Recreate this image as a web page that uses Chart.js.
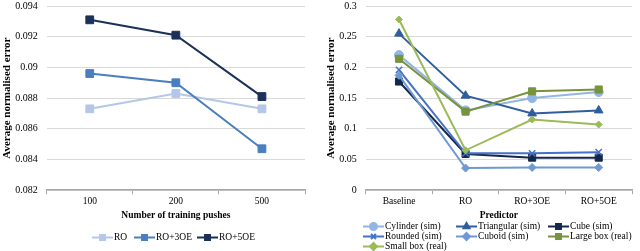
<!DOCTYPE html>
<html>
<head>
<meta charset="utf-8">
<script src="https://cdn.jsdelivr.net/npm/chart.js@4"></script>
<style>
  html, body { margin: 0; padding: 0; background: #fff; }
  #wrap { position: relative; width: 640px; height: 251px; font-family: "Liberation Serif", "Times New Roman", serif; }
  .pane { position: absolute; top: 0; width: 320px; height: 251px; }
  .leg { position: absolute; display: flex; align-items: center; white-space: nowrap; color: #000; }
  .leg canvas { display: block; margin-right: 1px; }
</style>
</head>
<body>
<div id="wrap">
  <div class="pane" style="left:0"><canvas id="pushChart" width="320" height="251"></canvas></div>
  <div class="pane" style="left:320px"><canvas id="predChart" width="320" height="251"></canvas></div>
</div>
<script>
// LEFT CHART DATA
const pushCounts = ["100", "200", "500"];
const roErr = [0.0873, 0.0883, 0.0873];
const ro3Err = [0.0896, 0.0890, 0.0847];
const ro5Err = [0.0931, 0.0921, 0.0881];
const pushTicks = [0.082, 0.084, 0.086, 0.088, 0.09, 0.092, 0.094];

// RIGHT CHART DATA
const predictors = ["Baseline", "RO", "RO+3OE", "RO+5OE"];
const cylinderErr = [0.220, 0.130, 0.150, 0.160];
const triangularErr = [0.255, 0.154, 0.125, 0.130];
const cubeErr = [0.177, 0.059, 0.053, 0.053];
const roundedErr = [0.196, 0.060, 0.060, 0.062];
const cuboidErr = [0.187, 0.036, 0.037, 0.037];
const largeBoxErr = [0.214, 0.128, 0.161, 0.164];
const smallBoxErr = [0.278, 0.065, 0.115, 0.107];
const predTicks = [0, 0.05, 0.1, 0.15, 0.2, 0.25, 0.3];

const FONT = "'Liberation Serif', 'Times New Roman', serif";

function series(label, data, color, style, radius, i, n) {
  return {
    label: label,
    data: data,
    borderColor: color,
    backgroundColor: color,
    pointStyle: style,
    pointRadius: radius,
    pointHoverRadius: radius,
    pointBorderWidth: style === "crossRot" ? 1.5 : 1,
    borderWidth: 2,
    clip: false,
    order: n - i
  };
}

function scales(labels, ticks, yTitle, xTitle) {
  return {
    x: {
      offset: true,
      grid: { display: true, drawOnChartArea: false, drawTicks: true, tickLength: 4, offset: true, color: "#a6a6a6" },
      border: { display: true, color: "#a6a6a6", width: 1.5 },
      ticks: { color: "#000", font: { family: FONT, size: 9.5 }, padding: 2, maxRotation: 0, autoSkip: false },
      title: { display: true, text: xTitle, color: "#000", font: { family: FONT, size: 9.5, weight: "bold" }, padding: { top: 0, bottom: 0 } }
    },
    y: {
      min: ticks[0],
      max: ticks[ticks.length - 1],
      afterBuildTicks: axis => { axis.ticks = ticks.map(v => ({ value: v })); },
      grid: { color: "#d9d9d9", lineWidth: 1, drawTicks: true, tickLength: 9, tickColor: "rgba(0,0,0,0)" },
      border: { display: false },
      ticks: { color: "#000", font: { family: FONT, size: 10 }, padding: 0, autoSkip: false, callback: v => String(+v.toFixed(3)) },
      title: { display: true, text: yTitle, color: "#000", font: { family: FONT, size: 11, weight: "bold" }, padding: { top: 0, bottom: 1 } }
    }
  };
}

// LEFT CHART
const pushSets = [
  series("RO", roErr, "#b4c7e7", "rect", 5.5, 0, 3),
  series("RO+3OE", ro3Err, "#4a7ebf", "rect", 5.5, 1, 3),
  series("RO+5OE", ro5Err, "#1c3158", "rect", 5.5, 2, 3)
];

new Chart(document.getElementById("pushChart"), {
  type: "line",
  data: { labels: pushCounts, datasets: pushSets },
  options: {
    responsive: false,
    animation: false,
    devicePixelRatio: 1,
    layout: { autoPadding: false, padding: { left: 1, right: 15, top: -2, bottom: 30 } },
    plugins: { legend: { display: false }, tooltip: { enabled: false } },
    scales: scales(pushCounts, pushTicks, "Average normalised error", "Number of training pushes")
  }
});

// RIGHT CHART
const predSets = [
  series("Cylinder (sim)", cylinderErr, "#92b6e4", "circle", 4.5, 0, 7),
  series("Triangular (sim)", triangularErr, "#2f5e9d", "triangle", 5, 1, 7),
  series("Cube (sim)", cubeErr, "#14284a", "rect", 5, 2, 7),
  series("Rounded (sim)", roundedErr, "#4472c4", "crossRot", 4.5, 3, 7),
  series("Cuboid (sim)", cuboidErr, "#6f98d4", "rectRot", 4, 4, 7),
  series("Large box (real)", largeBoxErr, "#77933c", "rect", 5, 5, 7),
  series("Small box (real)", smallBoxErr, "#9bbb59", "rectRot", 3.5, 6, 7)
];

new Chart(document.getElementById("predChart"), {
  type: "line",
  data: { labels: predictors, datasets: predSets },
  options: {
    responsive: false,
    animation: false,
    devicePixelRatio: 1,
    layout: { autoPadding: false, padding: { left: 5, right: 8, top: -2, bottom: 30 } },
    plugins: { legend: { display: false }, tooltip: { enabled: false } },
    scales: scales(predictors, predTicks, "Average normalised error", "Predictor")
  }
});

// LEGENDS (html, so the columns line up like the original)
function legendItem(ds, x, y, size) {
  const item = document.createElement("div");
  item.className = "leg";
  item.style.left = x + "px";
  item.style.top = (y - 6) + "px";
  item.style.height = "12px";
  item.style.fontSize = size + "px";
  const icon = document.createElement("canvas");
  icon.width = 21; icon.height = 11;
  const ctx = icon.getContext("2d");
  ctx.strokeStyle = ds.borderColor;
  ctx.fillStyle = ds.backgroundColor;
  ctx.lineWidth = 2;
  ctx.beginPath(); ctx.moveTo(0, 5.5); ctx.lineTo(21, 5.5); ctx.stroke();
  Chart.helpers.drawPoint(ctx, {
    pointStyle: ds.pointStyle,
    radius: Math.min(ds.pointRadius, 3.5),
    rotation: 0,
    borderWidth: ds.pointBorderWidth
  }, 10.5, 5.5);
  const txt = document.createElement("span");
  txt.textContent = ds.label;
  item.appendChild(icon);
  item.appendChild(txt);
  document.getElementById("wrap").appendChild(item);
}

const pushLegendX = [92, 134, 197];
pushSets.forEach((ds, i) => legendItem(ds, pushLegendX[i], 237, 9.5));

const predColX = [363, 456, 548];
const predRowY = [226, 236, 246];
predSets.forEach((ds, i) => legendItem(ds, predColX[i % 3], predRowY[Math.floor(i / 3)], 9.5));
</script>
</body>
</html>
